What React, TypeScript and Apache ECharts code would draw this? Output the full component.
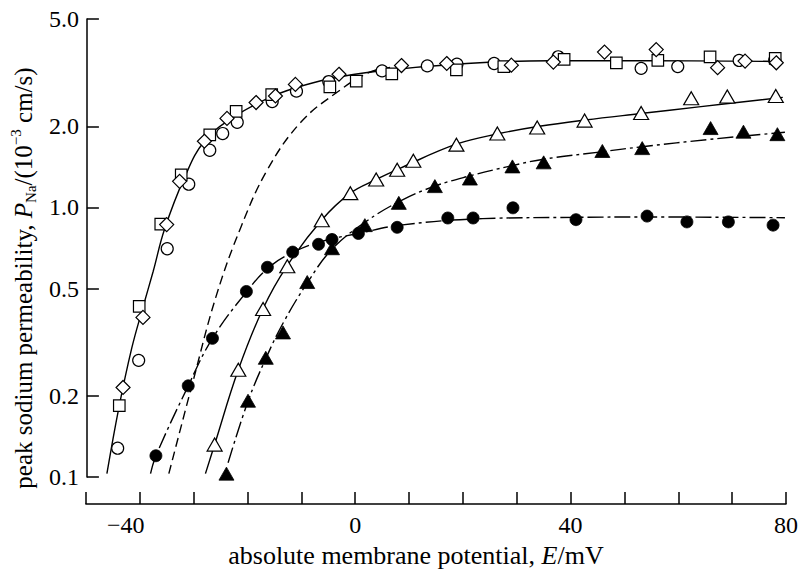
import React, { useEffect, useRef } from 'react';
import * as echarts from 'echarts';

// ---------- data (E in mV, P in 10^-3 cm/s) ----------
const xLabelled = [-40, 0, 40, 80];
const yTicks = [0.1, 0.2, 0.5, 1.0, 2.0, 5.0];

const openCircles: [number, number][] = [
  [-44.1, 0.128], [-40.2, 0.271], [-34.9, 0.703], [-30.9, 1.22], [-27.0, 1.63], [-24.6, 1.88],
  [-21.9, 2.07], [-15.4, 2.47], [-10.9, 2.70], [-4.9, 2.93], [5.0, 3.21], [13.4, 3.35],
  [18.9, 3.40], [25.8, 3.42], [37.7, 3.62], [53.1, 3.28], [59.9, 3.33], [71.3, 3.51], [77.9, 3.52],
];
const openSquares: [number, number][] = [
  [-43.8, 0.184], [-40.1, 0.430], [-36.1, 0.867], [-32.3, 1.32], [-27.0, 1.86], [-22.1, 2.27],
  [-15.5, 2.62], [-4.7, 2.80], [0.2, 2.94], [6.8, 3.13], [18.8, 3.24], [27.6, 3.33],
  [38.8, 3.54], [48.5, 3.44], [56.2, 3.51], [65.9, 3.62], [78.0, 3.57],
];
const openDiamonds: [number, number][] = [
  [-43.1, 0.215], [-39.4, 0.391], [-35.0, 0.864], [-32.6, 1.25], [-28.0, 1.76], [-23.8, 2.14],
  [-18.4, 2.45], [-14.8, 2.59], [-11.1, 2.86], [-3.0, 3.12], [8.6, 3.36], [17.0, 3.42],
  [29.0, 3.37], [36.8, 3.46], [46.3, 3.77], [55.9, 3.85], [67.3, 3.30], [72.4, 3.49], [78.2, 3.44],
];
const openTriangles: [number, number][] = [
  [-26.1, 0.132], [-21.7, 0.250], [-17.1, 0.420], [-12.6, 0.605], [-6.2, 0.897], [-0.9, 1.13],
  [3.9, 1.27], [7.8, 1.38], [10.8, 1.49], [18.8, 1.71], [26.4, 1.88], [33.8, 1.98],
  [42.6, 2.10], [53.1, 2.24], [62.4, 2.54], [69.1, 2.58], [78.1, 2.59],
];
const filledTriangles: [number, number][] = [
  [-23.9, 0.103], [-19.9, 0.192], [-16.6, 0.277], [-13.4, 0.344], [-8.9, 0.529], [-4.3, 0.706],
  [1.8, 0.860], [8.1, 1.04], [14.8, 1.20], [21.3, 1.28], [29.2, 1.42], [35.0, 1.47],
  [45.9, 1.62], [53.3, 1.66], [66.0, 1.97], [72.1, 1.91], [78.4, 1.87],
];
const filledCircles: [number, number][] = [
  [-37.0, 0.120], [-31.0, 0.218], [-26.5, 0.327], [-20.2, 0.488], [-16.3, 0.600], [-11.6, 0.683],
  [-6.8, 0.730], [-4.3, 0.761], [0.6, 0.801], [7.8, 0.844], [17.2, 0.914], [21.9, 0.914],
  [29.3, 0.997], [41.0, 0.901], [54.2, 0.929], [61.6, 0.884], [69.3, 0.884], [77.6, 0.860],
];

// fitted curves
const curveOpen: [number, number][] = [
  [-46.1, 0.103], [-43.9, 0.18], [-41.5, 0.30], [-39.5, 0.42], [-37.5, 0.58], [-35.4, 0.83],
  [-31.7, 1.29], [-28.0, 1.76], [-22.5, 2.17], [-15.6, 2.57], [-11.0, 2.78], [-5.1, 2.99],
  [4.1, 3.20], [20.7, 3.42], [36.1, 3.50], [54.5, 3.50], [79.1, 3.48],
];
const curveDashed: [number, number][] = [
  [-34.6, 0.103], [-30.1, 0.227], [-25.8, 0.470], [-21.2, 0.847], [-16.3, 1.38], [-10.1, 2.07],
  [-3.3, 2.68], [2.8, 3.18], [7.8, 3.33],
];
const curveOpenTri: [number, number][] = [
  [-27.8, 0.103], [-26.1, 0.132], [-21.7, 0.250], [-17.1, 0.422], [-12.7, 0.605], [-6.2, 0.899],
  [-0.9, 1.13], [3.9, 1.27], [8.4, 1.40], [18.9, 1.72], [26.8, 1.88], [34.2, 2.00],
  [42.7, 2.11], [53.0, 2.23], [63.8, 2.36], [79.4, 2.56],
];
const curveFilledTri: [number, number][] = [
  [-23.6, 0.113], [-19.9, 0.191], [-16.6, 0.275], [-13.4, 0.372], [-8.9, 0.525], [-4.3, 0.700],
  [1.8, 0.881], [8.5, 1.06], [14.8, 1.20], [21.3, 1.31], [29.2, 1.43], [35.0, 1.51],
  [45.9, 1.61], [53.3, 1.68], [66.0, 1.79], [79.8, 1.90],
];
const curveFilledCirc: [number, number][] = [
  [-38.0, 0.103], [-37.0, 0.120], [-31.0, 0.218], [-26.5, 0.327], [-20.2, 0.486], [-16.0, 0.600],
  [-11.6, 0.681], [-6.4, 0.747], [0.6, 0.801], [8.4, 0.860], [23.7, 0.909], [41.0, 0.919],
  [54.2, 0.922], [79.8, 0.916],
];

const FONT = '"Liberation Serif", "Times New Roman", serif';
const toLog = (pts: [number, number][]) => pts.map(([e, p]) => [e, Math.log10(p)]);

function buildOption(): any {
  const curve = (data: [number, number][], type: any) => ({
    type: 'line',
    data: toLog(data),
    symbol: 'none',
    smooth: 0.4,
    silent: true,
    z: 1,
    lineStyle: { color: '#000', width: 1.4, type },
  });
  const marks = (data: [number, number][], symbol: string, size: any, filled: boolean) => ({
    type: 'scatter',
    data: toLog(data),
    symbol,
    symbolSize: size,
    z: 3,
    itemStyle: filled
      ? { color: '#000', borderColor: '#000', borderWidth: 0.8, opacity: 1 }
      : { color: '#fff', borderColor: '#000', borderWidth: 1.2, opacity: 1 },
  });
  return {
    animation: false,
    backgroundColor: '#fff',
    grid: { left: 84, right: 13, top: 19, bottom: 89 },
    xAxis: {
      type: 'value',
      min: -50,
      max: 80,
      interval: 10,
      offset: 27,
      splitLine: { show: false },
      axisLine: { onZero: false, lineStyle: { color: '#000', width: 1.5 } },
      axisTick: { inside: true, length: 12, lineStyle: { color: '#000', width: 1.5 } },
      axisLabel: {
        margin: 9,
        fontFamily: FONT,
        fontSize: 24,
        color: '#000',
        formatter: (v: number) =>
          xLabelled.includes(v) ? (v < 0 ? `{neg|−${Math.abs(v)}}` : String(v)) : '',
        rich: { neg: { fontFamily: FONT, fontSize: 24, color: '#000', padding: [0, 28, 0, 0] } },
      },
      name: 'absolute membrane potential, {i|E}/mV',
      nameLocation: 'middle',
      nameGap: 33,
      nameTextStyle: {
        fontFamily: FONT,
        fontSize: 26,
        color: '#000',
        padding: [0, 40, 0, 0],
        rich: { i: { fontFamily: FONT, fontSize: 26, fontStyle: 'italic', color: '#000' } },
      },
    },
    yAxis: {
      type: 'value',
      min: -1,
      max: Math.log10(5),
      offset: -1,
      splitLine: { show: false },
      axisLine: { onZero: false, lineStyle: { color: '#000', width: 1.5 } },
      axisTick: {
        inside: true,
        length: 12,
        customValues: yTicks.map((t) => Math.log10(t)),
        lineStyle: { color: '#000', width: 1.5 },
      },
      axisLabel: {
        margin: 8,
        fontFamily: FONT,
        fontSize: 24,
        color: '#000',
        customValues: yTicks.map((t) => Math.log10(t)),
        formatter: (v: number) => Math.pow(10, v).toFixed(1),
      },
      name: 'peak sodium permeability, {i|P}{sub|Na}/(10{sup|−3} cm/s)',
      nameLocation: 'middle',
      nameRotate: 90,
      nameGap: 46,
      nameTextStyle: {
        fontFamily: FONT,
        fontSize: 25,
        color: '#000',
        lineHeight: 30,
        padding: [0, 60, 0, 0],
        rich: {
          i: { fontFamily: FONT, fontSize: 25, fontStyle: 'italic', color: '#000', lineHeight: 30 },
          sub: { fontFamily: FONT, fontSize: 15, color: '#000', verticalAlign: 'bottom', lineHeight: 30 },
          sup: { fontFamily: FONT, fontSize: 15, color: '#000', verticalAlign: 'top', lineHeight: 30 },
        },
      },
    },
    series: [
      curve(curveOpen, 'solid'),
      curve(curveDashed, [9, 5]),
      curve(curveOpenTri, 'solid'),
      curve(curveFilledTri, [16, 4, 3, 4]),
      curve(curveFilledCirc, [16, 4, 3, 4]),
      marks(openCircles, 'circle', 12, false),
      marks(openSquares, 'rect', 11.5, false),
      marks(openDiamonds, 'diamond', 14, false),
      marks(openTriangles, 'triangle', [15, 13], false),
      marks(filledTriangles, 'triangle', [15, 13], true),
      marks(filledCircles, 'circle', 12, true),
    ],
  };
}

export default function App() {
  const ref = useRef<HTMLDivElement>(null);
  useEffect(() => {
    if (!ref.current) return;
    const chart = echarts.init(ref.current, undefined, { renderer: 'svg' });
    chart.setOption(buildOption());
    return () => chart.dispose();
  }, []);
  return (
    <div
      ref={ref}
      style={{ position: 'fixed', left: 0, top: 0, width: 801, height: 573, background: '#fff' }}
    />
  );
}
